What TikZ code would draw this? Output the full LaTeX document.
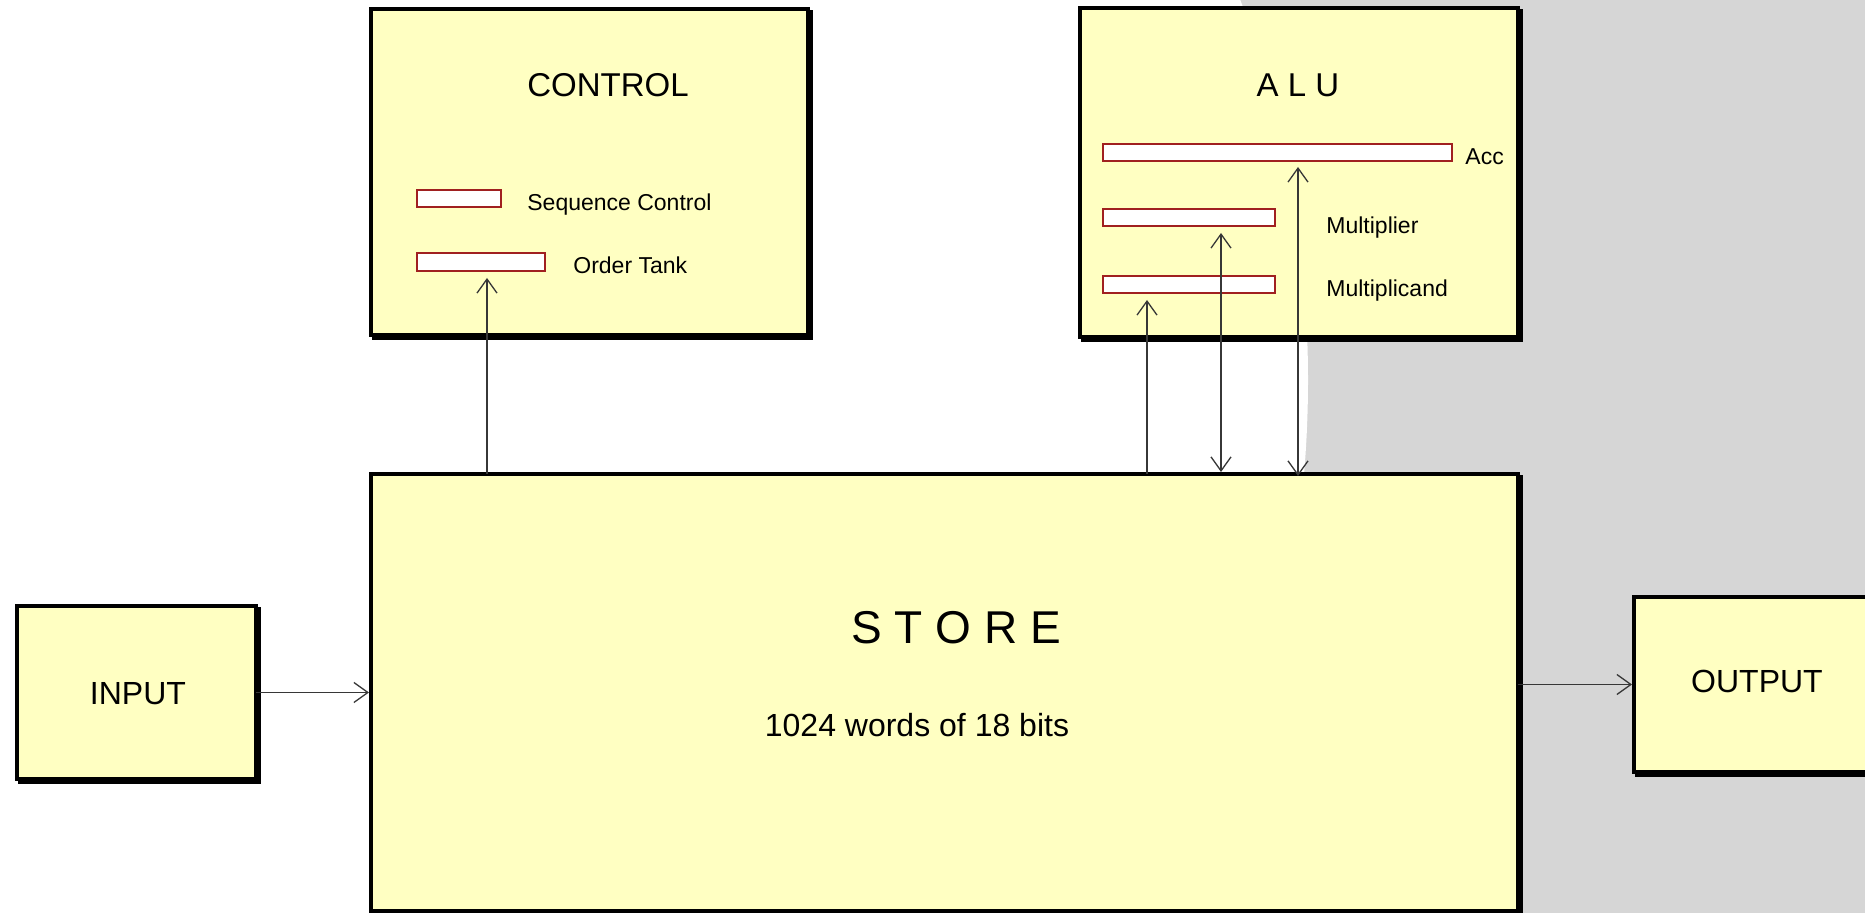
\documentclass[tikz,border=0pt]{standalone}
\usepackage{fontspec}
\setmainfont{Liberation Sans}
\usetikzlibrary{fit,arrows.meta}
\definecolor{boxyellow}{RGB}{255,255,194}
\definecolor{regred}{RGB}{160,32,32}
\definecolor{sidegray}{RGB}{214,214,214}
\definecolor{wire}{RGB}{55,55,55}
\newcommand{\txtsize}[1]{\fontsize{#1}{#1}\selectfont}

\begin{document}
\begin{tikzpicture}[x=0.5pt,y=-0.5pt,
  unit/.style={draw=black, line width=2pt, fill=boxyellow, inner sep=0pt, outer sep=0pt,
    preaction={draw=black, fill=black, line width=2pt,
      transform canvas={xshift=1.5pt,yshift=-1.5pt}}},
  reg/.style={draw=regred, line width=1.1pt, fill=white, inner sep=0pt, outer sep=0pt},
  lbl/.style={inner sep=0pt, anchor=base, text=black},
  lblw/.style={inner sep=0pt, anchor=base west, text=black},
  wirestyle/.style={draw=wire, line width=0.65pt},
  >={Straight Barb[length=7pt,width=10pt]}]

% page and shaded backdrop
\useasboundingbox (0,0) rectangle (1865,913);
\clip (0,0) rectangle (1865,913);
\fill[sidegray] (0,0) rectangle (1865,913);
\fill[white] (212,380) circle[radius=548pt];

% functional units
\node[unit, fit={(371,9) (808,335)}] (control) {};
\node[unit, fit={(1080,8) (1518,337)}] (alu) {};
\node[unit, fit={(371,474) (1518,911)}] (store) {};
\node[unit, fit={(17,606) (256,779)}] (input) {};
\node[unit, fit={(1634,597) (1890,772)}] (output) {};

% registers
\node[reg, fit={(417,190) (501,207)}] (seqctl) {};
\node[reg, fit={(417,253) (545,271)}] (ordertank) {};
\node[reg, fit={(1103,144) (1452,161)}] (acc) {};
\node[reg, fit={(1103,209) (1275,226)}] (mplier) {};
\node[reg, fit={(1103,276) (1275,293)}] (mcand) {};

% data paths
\coordinate (otTip) at (487,278);
\coordinate (mcTip) at (1147,300);
\coordinate (mpTip) at (1221,233);
\coordinate (acTip) at (1298,167);
\draw[wirestyle,->] (store.north -| otTip) -- (otTip);
\draw[wirestyle,->] (store.north -| mcTip) -- (mcTip);
\draw[wirestyle,<->] ([yshift=1pt]store.north -| mpTip) -- (mpTip);
\draw[wirestyle,<->] ([yshift=-1pt]store.north -| acTip) -- (acTip);
\draw[wirestyle,->,shorten >=1pt] (input.east) -- (store.west |- input.east);
\draw[wirestyle,->,shorten >=1pt] (store.east |- output.west) -- (output.west);

% labels
\node[lbl] (controlname) at (608,97) {\txtsize{16.5pt}CONTROL};
\node[lbl] (aluname) at (1298,97) {\txtsize{16.5pt}A L U};
\node[lblw] (seqname) at (527,211) {\txtsize{11.5pt}Sequence Control};
\node[lblw] (otname) at (573,274) {\txtsize{11.5pt}Order Tank};
\node[lblw] (accname) at (1465,165) {\txtsize{11.5pt}Acc};
\node[lblw] (mpname) at (1326,234) {\txtsize{11.5pt}Multiplier};
\node[lblw] (mcname) at (1326,297) {\txtsize{11.5pt}Multiplicand};
\node[lbl] (inname) at (138,705) {\txtsize{16pt}INPUT};
\node[lbl] (outname) at (1757,693) {\txtsize{16pt}OUTPUT};
\node[lbl] (storename) at (956,644) {\txtsize{23pt}S T O R E};
\node[lbl] (storesize) at (917,737) {\txtsize{16pt}1024 words of 18 bits};
\end{tikzpicture}
\end{document}
